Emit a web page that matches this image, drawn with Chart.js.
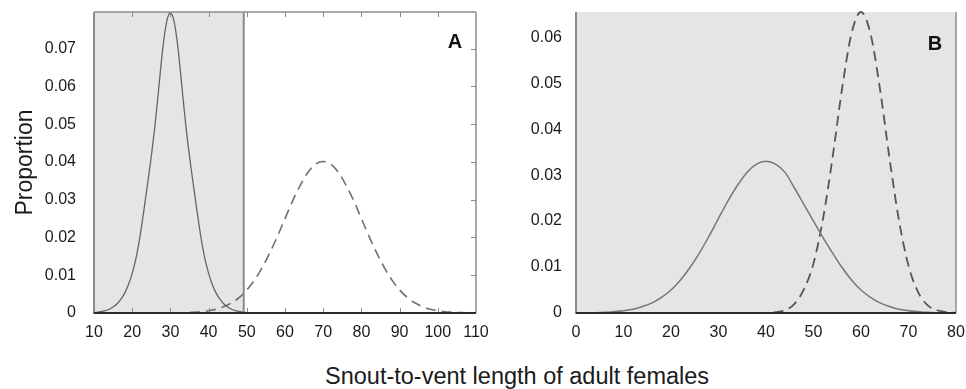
<!DOCTYPE html>
<html>
<head>
<meta charset="utf-8">
<script src="https://cdn.jsdelivr.net/npm/chart.js@4/dist/chart.umd.min.js"></script>
<style>
  body { margin: 0; width: 966px; height: 389px; background: #fff; position: relative; overflow: hidden;
         font-family: "Liberation Sans", Arial, sans-serif; }
  #boxA { position: absolute; left: 0; top: 0; width: 490px; height: 350px; }
  #boxB { position: absolute; left: 490px; top: 0; width: 476px; height: 350px; }
  #xtitle { position: absolute; left: 325px; top: 365px; font-size: 23.5px; line-height: 1; color: #1a1a1a; white-space: nowrap; }
</style>
</head>
<body>
<div id="boxA"><canvas id="chartA"></canvas></div>
<div id="boxB"><canvas id="chartB"></canvas></div>
<div id="xtitle">Snout-to-vent length of adult females</div>
<script>
// panel A, solid curve (x = 10..50)
const solidA_x = [10, 11, 12, 13, 14, 15, 16, 17, 18, 19, 20, 21, 22, 23, 24, 25, 26, 27, 28, 29, 30,
  31, 32, 33, 34, 35, 36, 37, 38, 39, 40, 41, 42, 43, 44, 45, 46, 47, 48, 49, 50];
const solidA_y = [0.0001, 0.0002, 0.0004, 0.0006, 0.0010, 0.0016, 0.0024, 0.0036, 0.0052, 0.0075,
  0.0105, 0.0145, 0.0200, 0.0268, 0.0340, 0.0415, 0.0500, 0.0600, 0.0700, 0.0770, 0.0795,
  0.0770, 0.0700, 0.0600, 0.0500, 0.0415, 0.0340, 0.0268, 0.0200, 0.0145, 0.0105,
  0.0075, 0.0052, 0.0036, 0.0024, 0.0016, 0.0010, 0.0006, 0.0004, 0.0002, 0.0001];

// panel A, dashed curve (x = 10..110)
const dashA_x = [10, 12, 14, 16, 18, 20, 22, 24, 26, 28, 30, 32, 34, 36, 38, 40, 42, 44, 46, 48, 50,
  52, 54, 56, 58, 60, 62, 64, 66, 68, 70, 72, 74, 76, 78, 80, 82, 84, 86, 88, 90,
  92, 94, 96, 98, 100, 102, 104, 106, 108, 110];
const dashA_y = [0, 0, 0, 0, 0, 0, 0, 0, 0, 0, 0.00002, 0.00004, 0.0001, 0.0002, 0.0003, 0.0006,
  0.0010, 0.0017, 0.0027, 0.0041, 0.0061, 0.0087, 0.0120, 0.0159, 0.0203, 0.0250, 0.0297,
  0.0338, 0.0372, 0.0394, 0.0401, 0.0394, 0.0372, 0.0338, 0.0297, 0.0250, 0.0203, 0.0159,
  0.0120, 0.0087, 0.0061, 0.0041, 0.0027, 0.0017, 0.0010, 0.0006, 0.0003, 0.0002, 0.0001,
  0.00004, 0.00002];

// panel B, solid curve (x = 0..80)
const solidB_x = [0, 2, 4, 6, 8, 10, 12, 14, 16, 18, 20, 22, 24, 26, 28, 30, 32, 34, 36, 38, 40,
  42, 44, 46, 48, 50, 52, 54, 56, 58, 60, 62, 64, 66, 68, 70, 72, 74, 76, 78, 80];
const solidB_y = [0.00002, 0.00004, 0.00007, 0.00014, 0.0003, 0.0005, 0.0008, 0.0014, 0.0022,
  0.0034, 0.0050, 0.0072, 0.0099, 0.0131, 0.0167, 0.0206, 0.0244, 0.0278, 0.0306, 0.0324,
  0.0330, 0.0324, 0.0306, 0.0272, 0.0236, 0.0200, 0.0164, 0.0131, 0.0099, 0.0072, 0.0050,
  0.0034, 0.0022, 0.0014, 0.0008, 0.0005, 0.0003, 0.00014, 0.00007, 0.00004, 0.00002];

// panel B, dashed curve (x = 18..80)
const dashB_x = [18, 20, 22, 24, 26, 28, 30, 32, 34, 36, 38, 40, 42, 44, 46, 48, 50, 52, 54, 56,
  58, 60, 62, 64, 66, 68, 70, 72, 74, 76, 78, 80];
const dashB_y = [0, 0, 0, 0, 0, 0, 0, 0, 0, 0, 0, 0.00003, 0.0002, 0.0006, 0.0020, 0.0052,
  0.0108, 0.0205, 0.0337, 0.0487, 0.0608, 0.0655, 0.0608, 0.0487, 0.0337, 0.0201, 0.0103,
  0.0046, 0.0017, 0.0006, 0.0002, 0.00003];

// axis limits / shaded region of panel A
const xRangeA = [10, 110];
const yMaxA = 0.0797;
const xRangeB = [0, 80];
const yMaxB = 0.0655;
const shadeEndA = 49.2;

function pts(xs, ys) {
  return xs.map((x, i) => ({ x: x, y: ys[i] }));
}

const deco = {
  id: "deco",
  beforeDatasetsDraw(chart, args, o) {
    const { ctx, chartArea: a, scales } = chart;
    const end = o.shadeTo != null ? scales.x.getPixelForValue(o.shadeTo) : a.right;
    ctx.save();
    ctx.fillStyle = "#e5e5e5";
    ctx.fillRect(a.left, a.top, end - a.left, a.bottom - a.top);
    ctx.restore();
  },
  afterDatasetsDraw(chart, args, o) {
    const { ctx, chartArea: a, scales } = chart;
    const x = scales.x, y = scales.y;
    function line(x1, y1, x2, y2) {
      ctx.beginPath();
      ctx.moveTo(x1, y1);
      ctx.lineTo(x2, y2);
      ctx.stroke();
    }
    ctx.save();
    if (o.ticks) {
      ctx.strokeStyle = "#8a8a8a";
      ctx.lineWidth = 1;
      x.ticks.forEach(t => {
        if (t.value === x.min || t.value === x.max) return;
        const px = Math.round(x.getPixelForValue(t.value)) + 0.5;
        line(px, a.top, px, a.top + 5);
        line(px, a.bottom, px, a.bottom - 5);
      });
      y.ticks.forEach(t => {
        if (t.value === 0) return;
        const py = Math.round(y.getPixelForValue(t.value)) + 0.5;
        line(a.right, py, a.right - 5, py);
      });
    }
    ctx.strokeStyle = "#8c8c8c";
    ctx.lineWidth = 1.5;
    if (o.top) line(a.left, a.top, a.right, a.top);
    line(a.right, a.top, a.right, a.bottom);
    if (o.vline != null) {
      const vx = x.getPixelForValue(o.vline);
      ctx.lineWidth = 2;
      line(vx, a.top, vx, a.bottom);
    }
    // axes
    ctx.lineWidth = 2;
    ctx.strokeStyle = "#8a8a8a";
    line(a.left, a.top, a.left, a.bottom + 1);
    ctx.strokeStyle = "#2a2a2a";
    line(a.left, a.bottom, a.right, a.bottom);
    // panel letter
    ctx.fillStyle = "#111";
    ctx.font = 'bold 20px "Liberation Sans", Arial, sans-serif';
    ctx.textAlign = "center";
    ctx.textBaseline = "middle";
    ctx.fillText(o.letter, a.right - 21, a.top + o.letterDy);
    ctx.restore();
  }
};

function makeChart(id, sets, xr, ymax, yWidth, tickPad, padRight, yTitle, decoOpts) {
  return new Chart(document.getElementById(id), {
    type: "line",
    data: { datasets: sets },
    plugins: [deco],
    options: {
      responsive: true,
      maintainAspectRatio: false,
      animation: false,
      events: [],
      layout: { autoPadding: false, padding: { top: 12, right: padRight, left: 0, bottom: 0 } },
      plugins: { legend: { display: false }, tooltip: { enabled: false }, deco: decoOpts },
      elements: { point: { radius: 0 } },
      scales: {
        x: {
          type: "linear",
          min: xr[0],
          max: xr[1],
          grid: { display: false },
          border: { display: false },
          ticks: {
            stepSize: 10,
            maxRotation: 0,
            autoSkip: false,
            padding: 2,
            color: "#1a1a1a",
            font: { family: '"Liberation Sans", Arial, sans-serif', size: 16 }
          },
          afterFit(s) {
            s.height = 37;
            s.paddingLeft = 0;
            s.paddingRight = 0;
          }
        },
        y: {
          min: 0,
          max: ymax,
          grid: { display: false },
          border: { display: false },
          ticks: {
            stepSize: 0.01,
            padding: tickPad,
            color: "#1a1a1a",
            font: { family: '"Liberation Sans", Arial, sans-serif', size: 16 },
            callback: v => (v === 0 ? "0" : v.toFixed(2))
          },
          afterBuildTicks(s) {
            s.ticks = s.ticks.filter(t => Math.abs(t.value * 100 - Math.round(t.value * 100)) < 1e-6);
          },
          title: {
            display: !!yTitle,
            text: yTitle,
            color: "#1a1a1a",
            padding: { top: 12, bottom: 0 },
            font: { family: '"Liberation Sans", Arial, sans-serif', size: 23 }
          },
          afterFit(s) {
            s.width = yWidth;
            s.paddingTop = 0;
            s.paddingBottom = 0;
          }
        }
      }
    }
  });
}

makeChart("chartA", [
  {
    data: pts(solidA_x, solidA_y),
    borderColor: "#666",
    borderWidth: 1.3,
    cubicInterpolationMode: "monotone",
    fill: false,
    clip: 3
  },
  {
    data: pts(dashA_x, dashA_y),
    borderColor: "#707070",
    borderWidth: 1.6,
    borderDash: [10, 6],
    cubicInterpolationMode: "monotone",
    fill: false,
    clip: 3
  }
], xRangeA, yMaxA, 94, 10, 14, "Proportion",
  { shadeTo: shadeEndA, vline: shadeEndA, ticks: true, top: true, letter: "A", letterDy: 30 });

makeChart("chartB", [
  {
    data: pts(solidB_x, solidB_y),
    borderColor: "#777",
    borderWidth: 1.5,
    cubicInterpolationMode: "monotone",
    fill: false,
    clip: 3
  },
  {
    data: pts(dashB_x, dashB_y),
    borderColor: "#555",
    borderWidth: 1.8,
    borderDash: [10, 6],
    cubicInterpolationMode: "monotone",
    fill: false,
    clip: 3
  }
], xRangeB, yMaxB, 86, 6, 10, "",
  { ticks: false, top: false, letter: "B", letterDy: 32 });
</script>
</body>
</html>
